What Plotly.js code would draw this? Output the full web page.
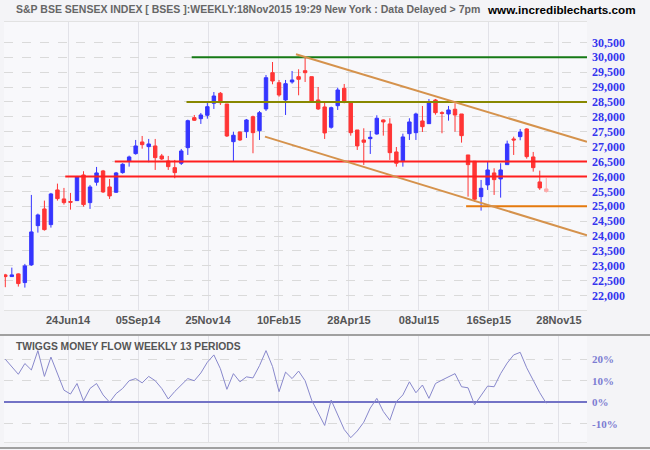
<!DOCTYPE html>
<html>
<head>
<meta charset="utf-8">
<script src="https://cdn.plot.ly/plotly-3.0.1.min.js"></script>
<style>html,body{margin:0;padding:0;background:#f4f4f7;}#chart{width:650px;height:450px;}</style>
</head>
<body>
<div id="chart"></div>
<script>
// Weekly candles (index = week number)
const openP = [22698,22641,22731,22440,23033,24350,24910,24384,25547,25246,
25159,25189,26050,25122,25806,26185,25648,25470,26128,26510,
26765,27157,27000,27023,26688,26520,26295,26443,26966,27972,
27938,28052,28455,28790,28431,27167,27492,27502,28005,27536,
28264,29481,29145,28565,29169,29347,29548,29347,28565,28331,
27650,28374,28958,28508,27559,27224,27268,27425,27895,27761,
26822,26510,27435,27469,27861,27771,28565,28139,28096,28254,
28096,26721,26510,25323,25715,26118,25916,26396,27258,27335,
27593,26654,25816,25581];
const highP = [22732,22942,22748,23066,25380,24753,25189,25447,25759,25615,
25447,26017,26175,25715,26319,26218,25916,26151,26443,26698,
27224,27358,27258,27258,26755,26688,26554,26922,27905,28062,
28129,28465,28833,28833,28431,27502,27502,27928,28039,28196,
29404,29839,29236,29236,29538,29595,30017,29347,29001,28475,
28341,28978,29102,28532,27559,27616,27526,28052,27912,27952,
26989,27435,27952,28139,28364,28599,28599,28186,28364,28455,
28096,26721,26510,25883,26497,26275,26443,27201,27335,27593,
27616,26822,26195,25950];
const lowP = [22285,22630,22306,22272,23000,24116,24183,24284,25189,25055,
24887,25179,24988,24911,25692,25447,25246,25447,26094,26329,
26731,26932,26476,26218,26554,26218,25940,26386,26721,27861,
27761,27938,28264,28398,27325,26496,27190,27291,26778,27224,
28196,29092,28676,28062,29112,28723,29169,28465,28230,27258,
27603,28230,28455,27368,26889,26386,26755,27402,27368,26554,
26329,26329,27224,27224,27492,27761,28072,27449,27871,27502,
27134,25323,25155,24854,25548,25380,25289,26396,26721,27214,
26597,26161,25548,25457];
const closeP = [22641,22698,22406,23000,24139,24709,24216,25413,25256,25122,
25135,25994,25055,25648,26118,25480,25346,26118,26409,26654,
27023,27067,27090,26631,26587,26329,26128,26855,27871,27885,
28062,28341,28699,28475,27358,27382,27224,27895,27469,28139,
29313,29202,28733,29112,29236,29259,29481,28498,28264,27459,
28307,28901,28488,27469,27023,27147,27315,27952,27828,26798,
26443,27325,27828,28096,27670,28475,28139,28119,28230,28062,
27368,26396,25236,25604,26218,25893,26218,27090,27224,27492,
26664,26295,25615,25504];
// Twiggs Money Flow (percent)
const moneyFlow = [20,16.5,13,18,15,24,12,21,13,5.6,
3.8,8.7,0.6,6.4,8.7,3.4,0,4,6.4,10,
11,9,12,10,6.4,1.5,5,8,11,10,
13.6,18.6,22,15.6,6,13.3,9.5,11.8,11.3,17,
24,16.6,4.9,14,11,14.5,10,1,-5,-10.8,
1,-5.8,-12.7,-16.5,-13.4,-9.3,-2.7,1.8,-4.3,-8.4,
0.3,3.4,9.5,4.4,8,1.8,8.7,10.3,11.8,13.3,
7.2,6.7,-1.2,3.4,7.5,7.2,13.3,18.2,22,23.2,
16,10.2,4.4,-0.5];
// x-axis date labels
const tickLabels = ['24Jun14','05Sep14','25Nov14','10Feb15','28Apr15','08Jul15','16Sep15','28Nov15'];
const tickPos = [9.62,20.36,31.1,41.99,52.73,63.47,74.2,84.95];
// money-flow axis labels
const mfTickVals = [-10,0,10,20];
const mfTickText = ['-10%','0%','10%','20%'];
// support / resistance levels and where they begin (week index)
const levels = [30000,28500,26500,26000,25000];
const levelStart = [28.6,27.8,16.8,9.2,70.7];
const levelColors = ['#167a16','#888800','#ff1f1f','#ff1f1f','#e57a0e'];
// trend channel lines: [startWeek, startPrice, endWeek, endPrice]
const trendUpper = [44.6,30098,89.25,27160];
const trendLower = [39.84,27335,89.25,24026];

const weeks = openP.map((_, i) => i);
const n = weeks.length;
const XR = [-0.2, 89.25];

const main = {
  type:'candlestick', x:weeks.slice(0,n-1),
  open:openP.slice(0,n-1), high:highP.slice(0,n-1), low:lowP.slice(0,n-1), close:closeP.slice(0,n-1),
  increasing:{line:{color:'#3535ff',width:1}, fillcolor:'#3535ff'},
  decreasing:{line:{color:'#ff3535',width:1}, fillcolor:'#ff3535'},
  whiskerwidth:0, xaxis:'x', yaxis:'y', hoverinfo:'skip', showlegend:false
};
const last = {
  type:'candlestick', x:weeks.slice(n-1),
  open:openP.slice(n-1), high:highP.slice(n-1), low:lowP.slice(n-1), close:closeP.slice(n-1),
  increasing:{line:{color:'#ffa8a8',width:1}, fillcolor:'#ffa8a8'},
  decreasing:{line:{color:'#ffa8a8',width:1}, fillcolor:'#ffa8a8'},
  whiskerwidth:0, xaxis:'x', yaxis:'y', hoverinfo:'skip', showlegend:false
};
const mf = {
  type:'scatter', mode:'lines', x:weeks, y:moneyFlow,
  line:{color:'#8888cc', width:1}, xaxis:'x2', yaxis:'y2', hoverinfo:'skip', showlegend:false
};

const shapes = [];
levels.forEach((lv,i)=>{
  shapes.push({type:'line', xref:'x', yref:'y', x0:levelStart[i], x1:XR[1], y0:lv, y1:lv,
    line:{color:levelColors[i], width:2}});
});
[trendUpper, trendLower].forEach(t=>{
  shapes.push({type:'line', xref:'x', yref:'y', x0:t[0], y0:t[1], x1:t[2], y1:t[3],
    line:{color:'#d5924c', width:2}});
});
shapes.push({type:'line', xref:'paper', yref:'paper', x0:0, x1:1, y0:1-335/450, y1:1-335/450, line:{color:'#a0a0a0', width:2}});
shapes.push({type:'line', xref:'paper', yref:'paper', x0:0, x1:1, y0:1-448/450, y1:1-448/450, line:{color:'#a0a0a0', width:2}});

const yTicks = [];
for (let v = 22000; v <= 30500; v += 500) yTicks.push(v);

const gridC = '#e2e2e8';
const layout = {
  width:650, height:450, margin:{l:0,r:0,t:0,b:0},
  paper_bgcolor:'#f4f4f7', plot_bgcolor:'#f8f8fb',
  showlegend:false, hovermode:false, boxgap:0.25,
  xaxis:{domain:[4/650,587/650], range:XR, anchor:'y', tickvals:tickPos, ticktext:tickLabels,
    showgrid:true, gridcolor:gridC, zeroline:false, ticks:'', rangeslider:{visible:false},
    tickfont:{family:'Liberation Sans, Arial', size:11, color:'#555555', weight:'bold'},
    showline:true, linecolor:'#e2e2e2', mirror:true},
  yaxis:{domain:[1-310/450, 1-22/450], range:[21520,31181], side:'right', anchor:'x',
    tickvals:yTicks, tickformat:',d', showgrid:true, gridcolor:'#dadada', griddash:'dash',
    zeroline:false, ticks:'', ticklabelstandoff:4,
    tickfont:{family:'Liberation Serif, Times New Roman', size:12, color:'#3434ee', weight:'bold'}},
  xaxis2:{domain:[4/650,587/650], range:XR, anchor:'y2', matches:'x', tickvals:tickPos,
    showticklabels:false, showgrid:true, gridcolor:gridC, zeroline:false, ticks:'',
    showline:true, linecolor:'#e2e2e2', mirror:true},
  yaxis2:{domain:[1-442/450, 1-336/450], range:[-18.5,30.8], side:'right', anchor:'x2',
    tickvals:mfTickVals, ticktext:mfTickText, showgrid:true, gridcolor:'#dadada', griddash:'dash',
    zeroline:true, zerolinecolor:'#7373c6', zerolinewidth:1.5, ticks:'', ticklabelstandoff:4,
    tickfont:{family:'Liberation Serif, Times New Roman', size:11, color:'#7c7cd2', weight:'bold'}},
  shapes:shapes,
  annotations:[
    {xref:'paper', yref:'paper', x:14/650, y:1-9/450, xanchor:'left', yanchor:'middle', showarrow:false,
     text:'S&amp;P BSE SENSEX INDEX [ BSES ]:WEEKLY:18Nov2015 19:29 New York : Data Delayed &gt; 7pm',
     font:{family:'Liberation Sans, Arial', size:10.5, color:'#666666', weight:'bold'}},
    {xref:'paper', yref:'paper', x:638/650, y:1-9/450, xanchor:'right', yanchor:'middle', showarrow:false,
     text:'www.incrediblecharts.com',
     font:{family:'Liberation Sans, Arial', size:11.7, color:'#000000', weight:'bold'}},
    {xref:'paper', yref:'paper', x:14/650, y:1-346/450, xanchor:'left', yanchor:'middle', showarrow:false,
     text:'TWIGGS MONEY FLOW WEEKLY 13 PERIODS',
     font:{family:'Liberation Sans, Arial', size:10.3, color:'#555555', weight:'bold'}}
  ]
};

Plotly.newPlot('chart', [main, last, mf], layout, {staticPlot:true, displayModeBar:false});
</script>
</body>
</html>
